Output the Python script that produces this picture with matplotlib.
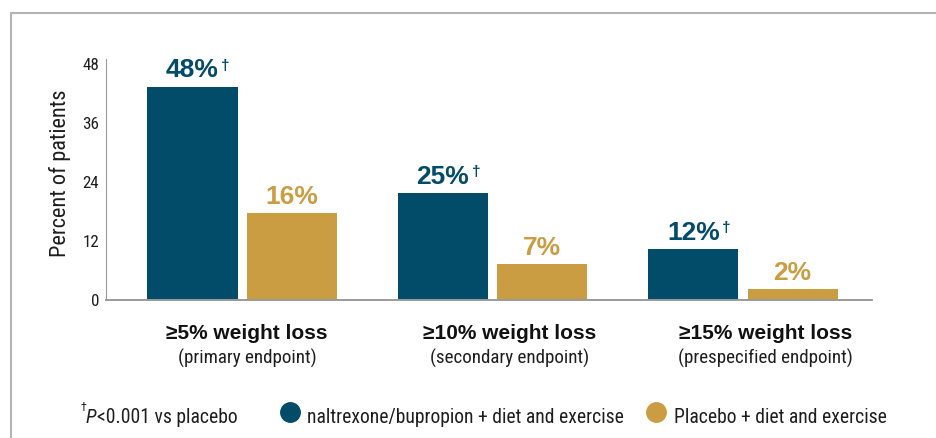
import numpy as np
import matplotlib
matplotlib.use('Agg')
import matplotlib.pyplot as plt
from matplotlib import font_manager
from matplotlib.font_manager import FontProperties
from matplotlib.lines import Line2D
from matplotlib.patches import Rectangle
from matplotlib.transforms import blended_transform_factory

# data
categories = ['≥5% weight loss', '≥10% weight loss', '≥15% weight loss']
subtitles = ['(primary endpoint)', '(secondary endpoint)', '(prespecified endpoint)']
series = ['naltrexone/bupropion + diet and exercise', 'Placebo + diet and exercise']
bar_nb = [43.2, 21.6, 10.2]      # bar heights as drawn
bar_pl = [17.5, 7.2, 2.1]
label_nb = ['48%', '25%', '12%']
label_pl = ['16%', '7%', '2%']
yticks = [0, 12, 24, 36, 48]
footnote = ['†', 'P', '<0.001 vs placebo']

NAVY = '#024b69'
GOLD = '#cb9d42'
DARK = '#1e1e1e'

plt.rcParams['font.family'] = ['Liberation Sans', 'DejaVu Sans']

# look for a condensed sans for the small text
def find_narrow(style):
    prefs = ['Liberation Sans Narrow', 'Roboto Condensed', 'Noto Sans', 'Open Sans',
             'DejaVu Sans']
    ents = font_manager.fontManager.ttflist
    for name in prefs:
        for f in ents:
            cond = (f.stretch in ('condensed', 'semi-condensed') or
                    'Narrow' in f.name or 'Condensed' in f.name or
                    'Condensed' in f.fname or 'Narrow' in f.fname)
            if f.name == name and cond and f.style == style and f.weight in (400, 'normal', 'regular'):
                return FontProperties(fname=f.fname)
    return FontProperties(family='Liberation Sans', style=style)

fp_n = find_narrow('normal')
fp_i = find_narrow('italic')

W, H = 937, 439
def fx(px):
    return px / W
def fy(py):
    return 1 - py / H

fig = plt.figure(figsize=(9.37, 4.39), dpi=100)
renderer = fig.canvas.get_renderer()

def fit_size(fp, s, target):
    t = fig.text(0, 0, s, fontproperties=fp, size=10)
    wd = t.get_window_extent(renderer).width
    t.remove()
    return 10 * target / wd

k = fit_size(fp_n, series[1], 211) / 15.0

def nfp(size, fp=fp_n):
    p = fp.copy()
    p.set_size(size * k)
    return p

ax = fig.add_axes([fx(106), fy(300.5), fx(872) - fx(106), fy(60) - fy(300.5)])

x = np.arange(len(categories))
w = 0.36
off = 0.198
b1 = ax.bar(x - off, bar_nb, w, color=NAVY, zorder=2)
b2 = ax.bar(x + off, bar_pl, w, color=GOLD, zorder=2)

ax.set_xlim(-0.543, 2.515)
ax.set_ylim(0, 48.8)
ax.set_yticks(yticks)
ax.set_xticks([])
ax.tick_params(axis='y', length=0, pad=5, labelcolor=DARK)
for lab in ax.get_yticklabels():
    lab.set_fontproperties(nfp(13))
for s in ['top', 'right']:
    ax.spines[s].set_visible(False)
ax.spines['left'].set_color('#9a9a9a')
ax.spines['left'].set_linewidth(0.8)
ax.spines['bottom'].set_color('#9a9a9a')
ax.spines['bottom'].set_linewidth(1.4)
ax.set_ylabel('Percent of patients', fontproperties=nfp(17), color=DARK)
ax.yaxis.set_label_coords(-0.046, 0.53)

# value labels above bars
for bars, labels, col, dag in [(b1, label_nb, NAVY, True), (b2, label_pl, GOLD, False)]:
    for rect, lab in zip(bars, labels):
        t = ax.annotate(lab, xy=(rect.get_x() + rect.get_width() / 2, rect.get_height()),
                        xytext=(0, 7.5), textcoords='offset points',
                        ha='center', va='baseline', fontsize=19,
                        fontweight='bold', color=col)
        if dag:
            ax.annotate('†', xy=(1, 1), xycoords=t, xytext=(1.8, -0.3),
                        textcoords='offset points', ha='left', va='top',
                        fontsize=11, fontweight='bold', color=col)

# category labels under the groups
tr = blended_transform_factory(ax.transData, fig.transFigure)
lab_shift = [0.02, 0.07, 0.09]
for i, (c, s) in enumerate(zip(categories, subtitles)):
    ax.text(x[i] + lab_shift[i], fy(339), c, transform=tr, ha='center', va='baseline',
            fontsize=15, fontweight='bold', color='#111111')
    ax.text(x[i] + lab_shift[i], fy(363.3), s, transform=tr, ha='center', va='baseline',
            fontproperties=nfp(14.5), color=DARK)

# footnote
tp = fig.text(fx(86), fy(423), footnote[1], ha='left', va='baseline',
              fontproperties=nfp(15, fp_i), color=DARK)
fig.text(fx(80.5), fy(411), footnote[0], ha='left', va='baseline',
         fontproperties=nfp(9), color=DARK)
ax.annotate(footnote[2], xy=(1, 0), xycoords=tp, xytext=(0.5, 0),
            textcoords='offset points', ha='left', va='bottom',
            fontproperties=nfp(15), color=DARK, annotation_clip=False)

# legend entries
for cx, tx, col, name in [(290, 307, NAVY, series[0]), (656.5, 674, GOLD, series[1])]:
    fig.add_artist(Line2D([fx(cx)], [fy(413)], marker='o', markersize=14,
                          color=col, transform=fig.transFigure))
    fig.text(fx(tx), fy(423), name, ha='left', va='baseline',
             fontproperties=nfp(15), color=DARK)

# frame around the figure
fig.add_artist(Rectangle((fx(11), -0.5), 2, fy(13.5) + 0.5, fill=False,
                         ec='#b4b4b4', lw=1.5, transform=fig.transFigure))

fig.savefig('out.png', dpi=100)
